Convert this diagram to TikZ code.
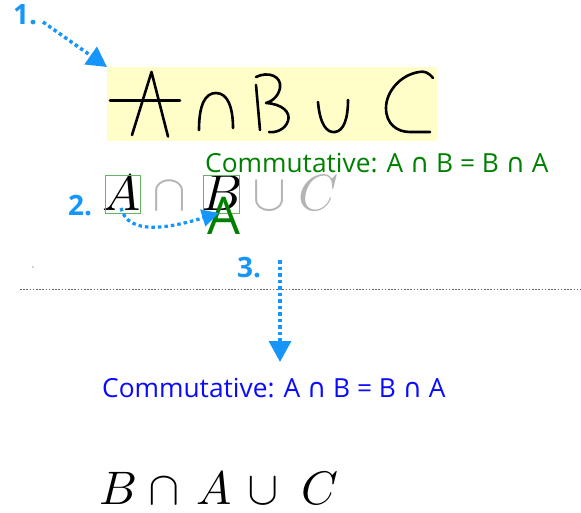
\documentclass[tikz,border=0pt]{standalone}
\usepackage{fontspec}
\usepackage{unicode-math}
\setmainfont{Latin Modern Roman}
\setmathfont{Latin Modern Math}
\setsansfont{Open Sans}
\newfontfamily\symf{DejaVu Sans}
\usetikzlibrary{arrows.meta}
\definecolor{hlyellow}{RGB}{255,253,200}
\definecolor{stepblue}{RGB}{22,150,250}
\definecolor{cgreen}{RGB}{0,128,0}
\definecolor{boxgreen}{RGB}{100,180,100}
\definecolor{ghost}{RGB}{180,180,180}
\definecolor{cblue}{RGB}{10,10,255}
\tikzset{
  lbl/.style={font=\sffamily\bfseries\fontsize{28}{28}\selectfont, text=stepblue, inner sep=0pt, anchor=base west},
  stepline/.style={stepblue, line width=3.5pt, dash pattern=on 3.5pt off 3pt},
  ink/.style={line width=2.6pt, line cap=round, line join=round, black},
  commut/.style={font=\sffamily\fontsize{26.3}{27}\selectfont, inner sep=0pt, anchor=base west},
  mathsym/.style={inner sep=0pt, anchor=base, font=\fontsize{51}{51}\selectfont},
  mathlow/.style={inner sep=0pt, anchor=base, font=\fontsize{47}{47}\selectfont},
}
\begin{document}
\begin{tikzpicture}[x=1pt,y=-1pt]
\useasboundingbox (0,0) rectangle (581,513);

% step 1
\node[lbl] (l1) at (13,25) {1.};
\coordinate (a1s) at (43,22);
\node[fill=hlyellow, minimum width=330pt, minimum height=74pt, inner sep=0pt, anchor=north west] (hl) at (107,67) {};
\draw[stepline, -{Triangle[length=20pt,width=21pt]}] (a1s) -- (hl.north west);

% handwriting
\draw[ink] (132,135) -- (151.5,72) -- (168,136.5);
\draw[ink] (110,100.5) -- (180,100.5);
\draw[ink] (199,130) .. controls (199,105) and (205,93) .. (216,93) .. controls (228,93) and (233,108) .. (233,128);
\draw[ink] (256,85) -- (260,130);
\draw[ink] (256,77) .. controls (268,71) and (282,76) .. (280,88) .. controls (278,98) and (270,102) .. (266,103)
  .. controls (282,104) and (291,112) .. (288,121) .. controls (285,130) and (275,133) .. (269,132);
\draw[ink] (318,102) .. controls (320,125) and (327,133) .. (335,132) .. controls (344,131) and (348,118) .. (348,100);
\draw[ink] (433,78) .. controls (428,72) and (424,71) .. (419,72) .. controls (400,75) and (386,92) .. (386,108)
  .. controls (386,124) and (397,132) .. (410,132) -- (430,132);

% green commutative text
\node[commut, text=cgreen] (gtext) at (205,173) {Commutative: A {\symf∩} B = B {\symf∩} A};

% step 2 row
\node[lbl] (l2) at (68,215) {2.};
\node[mathsym] (mA) at (122,211) {$A$};
\node[mathsym, text=ghost] (mcap) at (170,211) {$\cap$};
\node[mathsym] (mB) at (221,211) {$B$};
\node[mathsym, text=ghost] (mcup) at (270,211) {$\cup$};
\node[mathsym, text=ghost] (mC) at (319,211) {$C$};
\draw[boxgreen, line width=0.8pt] (105,175.5) rectangle (140.5,213);
\draw[boxgreen, line width=0.8pt] (203.5,175.5) rectangle (239,213);
\node[font=\sffamily\fontsize{52}{52}\selectfont, text=cgreen, inner sep=0pt, anchor=base] (gA) at (224,235) {A};
\coordinate (a2s) at (121,208);
\coordinate (a2e) at (219,213);
\draw[stepline, line width=3.2pt, -{Triangle[length=17pt,width=17pt]}] (a2s) .. controls (128,236) and (170,228) .. (a2e);

% stray dot
\fill[gray!70] (33,267) circle (0.9pt);

% step 3
\node[lbl] (l3) at (237,277) {3.};
\draw[gray!80!black, line width=1.6pt, dash pattern=on 1.6pt off 1.6pt] (20,289.5) -- (581,289.5);
\node[commut, text=cblue] (btext) at (102,397) {Commutative: A {\symf∩} B = B {\symf∩} A};
\coordinate (a3s) at (280,260);
\coordinate (a3e) at (280,362);
\draw[stepline, -{Triangle[length=21pt,width=22pt]}] (a3s) -- (a3e);

% result
\node[mathlow] (rB) at (118,504) {$B$};
\node[mathlow] (rcap) at (164,504) {$\cap$};
\node[mathlow] (rA) at (214,504) {$A$};
\node[mathlow] (rcup) at (263,504) {$\cup$};
\node[mathlow] (rC) at (320,504) {$C$};
\end{tikzpicture}
\end{document}
